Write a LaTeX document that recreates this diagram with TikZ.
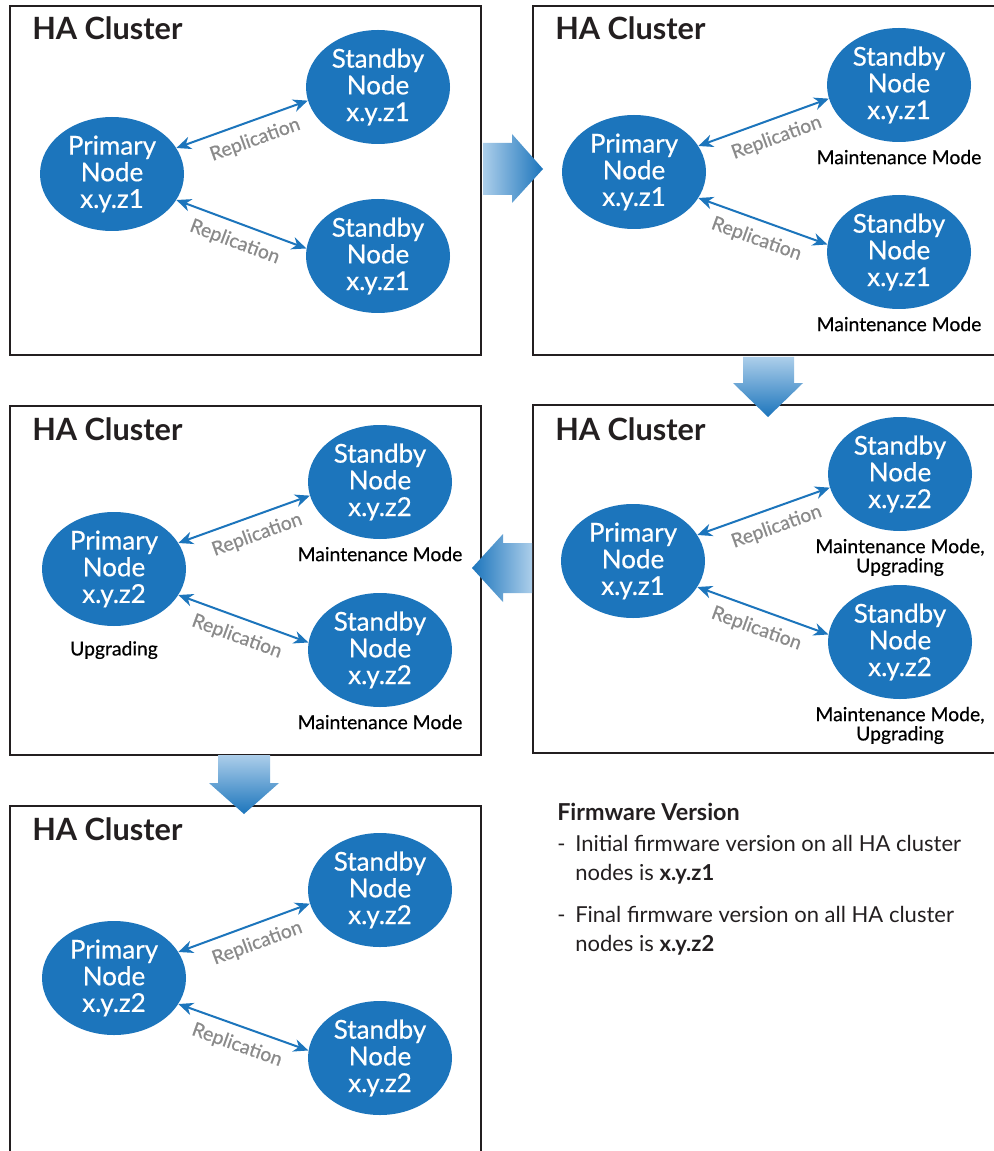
\documentclass[tikz,border=0pt]{standalone}
\usepackage{fontspec}
\setmainfont{Lato}
\newfontfamily\mediumfont[FakeBold=0.5]{Lato}
\usetikzlibrary{shapes.geometric,arrows.meta}

\definecolor{nodeblue}{RGB}{28,117,188}
\definecolor{replgray}{RGB}{138,138,138}
\definecolor{boxline}{RGB}{35,31,32}
\definecolor{flowlight}{RGB}{172,206,234}
\definecolor{flowdark}{RGB}{28,117,188}

\tikzset{
  clusterbox/.style={draw=boxline, line width=2.1pt},
  clustertitle/.style={anchor=base west, inner sep=0pt, font=\fontsize{23}{26}\selectfont\bfseries, text=boxline},
  hanode/.style={ellipse, fill=nodeblue, text=white, minimum width=108pt, minimum height=85.5pt,
    inner sep=0pt, align=center, font=\mediumfont\fontsize{19.5}{20}\selectfont},
  repl/.style={{Stealth[length=11pt,width=9.5pt,inset=3.5pt]}-{Stealth[length=11pt,width=9.5pt,inset=3.5pt]},
    draw=nodeblue, line width=1.5pt},
  repltext/.style={text=replgray, inner sep=1pt, font=\mediumfont\fontsize{14.5}{16}\selectfont},
  status/.style={anchor=north, inner sep=0pt, align=center, text=black,
    font=\mediumfont\fontsize{14.5}{14.5}\selectfont},
  notetext/.style={anchor=base west, inner sep=0pt, text=boxline, font=\fontsize{16.5}{19}\selectfont},
}

% two replication links from a primary node to its standby nodes
\newcommand\replinks[3]{%
  \draw[repl] (#1.22) -- node[repltext, pos=0.55, below=6pt, sloped] {Replication} (#2.191);
  \draw[repl] (#1.-22) -- node[repltext, midway, below=6pt, sloped] {Replication} (#3.174);
}

\begin{document}
\begin{tikzpicture}[x=0.75pt, y=-0.75pt]
\useasboundingbox (0,0) rectangle (994,1151);
\fill[white] (0,0) rectangle (994,1151);
\clip (0,0) rectangle (994,1151);

% ---------------- cluster 1: initial state ----------------
\draw[clusterbox] (10,6) rectangle (481,355);
\node[clustertitle] (t1) at (32,40) {HA Cluster};
\node[hanode] (p1)  at (112,174) {Primary\\Node\\x.y.z1};
\node[hanode] (s1a) at (378,87)  {Standby\\Node\\x.y.z1};
\node[hanode] (s1b) at (378,256) {Standby\\Node\\x.y.z1};
\replinks{p1}{s1a}{s1b}

% ---------------- cluster 2: standbys in maintenance ----------------
\draw[clusterbox] (533,6) rectangle (1000,355);
\node[clustertitle] (t2) at (555,40) {HA Cluster};
\node[hanode] (p2)  at (634,172) {Primary\\Node\\x.y.z1};
\node[hanode] (s2a) at (899,85)  {Standby\\Node\\x.y.z1};
\node[hanode] (s2b) at (899,252) {Standby\\Node\\x.y.z1};
\replinks{p2}{s2a}{s2b}
\node[status] (m2a) at ([yshift=-5.5pt]s2a.south) {Maintenance Mode};
\node[status] (m2b) at ([yshift=-5.5pt]s2b.south) {Maintenance Mode};

% ---------------- cluster 4: standbys upgrading ----------------
\draw[clusterbox] (533,405) rectangle (1000,753);
\node[clustertitle] (t4) at (555,440) {HA Cluster};
\node[hanode] (p4)  at (633,561) {Primary\\Node\\x.y.z1};
\node[hanode] (s4a) at (900,474) {Standby\\Node\\x.y.z2};
\node[hanode] (s4b) at (900,642) {Standby\\Node\\x.y.z2};
\replinks{p4}{s4a}{s4b}
\node[status] (m4a) at ([yshift=-5.5pt]s4a.south) {Maintenance Mode,\\Upgrading};
\node[status] (m4b) at ([yshift=-5.5pt]s4b.south) {Maintenance Mode,\\Upgrading};

% ---------------- cluster 3: primary upgrading ----------------
\draw[clusterbox] (10,406) rectangle (481,755);
\node[clustertitle] (t3) at (32,440) {HA Cluster};
\node[hanode] (p3)  at (114,569) {Primary\\Node\\x.y.z2};
\node[hanode] (s3a) at (380,482) {Standby\\Node\\x.y.z2};
\node[hanode] (s3b) at (380,650) {Standby\\Node\\x.y.z2};
\replinks{p3}{s3a}{s3b}
\node[status] (u3)  at ([yshift=-11pt]p3.south)  {Upgrading};
\node[status] (m3a) at ([yshift=-5.5pt]s3a.south) {Maintenance Mode};
\node[status] (m3b) at ([yshift=-5.5pt]s3b.south) {Maintenance Mode};

% ---------------- cluster 5: final state ----------------
\draw[clusterbox] (10,806) rectangle (481,1160);
\node[clustertitle] (t5) at (32,840) {HA Cluster};
\node[hanode] (p5)  at (114,978)  {Primary\\Node\\x.y.z2};
\node[hanode] (s5a) at (380,890)  {Standby\\Node\\x.y.z2};
\node[hanode] (s5b) at (380,1058) {Standby\\Node\\x.y.z2};
\replinks{p5}{s5a}{s5b}

% ---------------- flow arrows between the stages ----------------
\shade[left color=flowlight, right color=flowdark]
  (483,143) -- (512,143) -- (512,134) -- (543,169) -- (512,203) -- (512,195) -- (483,195) -- cycle;
\shade[top color=flowlight, bottom color=flowdark]
  (743,357) -- (794,357) -- (794,383) -- (803,383) -- (768,417) -- (733,383) -- (743,383) -- cycle;
\shade[left color=flowdark, right color=flowlight]
  (532,543) -- (503,543) -- (503,534) -- (472,568) -- (503,602) -- (503,593) -- (532,593) -- cycle;
\shade[top color=flowlight, bottom color=flowdark]
  (218,755) -- (270,755) -- (270,783) -- (279,783) -- (244,814) -- (209,783) -- (218,783) -- cycle;

% ---------------- legend ----------------
\node[notetext, font=\fontsize{17.5}{20}\selectfont\bfseries] (fw) at (557,820) {Firmware Version};
\node[notetext] (d1) at (557,851) {-};
\node[notetext] (l1a) at (575,851) {Initial firmware version on all HA cluster};
\node[notetext] (l1b) at (575,880) {nodes is \textbf{x.y.z1}};
\node[notetext] (d2) at (557,922) {-};
\node[notetext] (l2a) at (575,922) {Final firmware version on all HA cluster};
\node[notetext] (l2b) at (575,951) {nodes is \textbf{x.y.z2}};
\end{tikzpicture}
\end{document}
